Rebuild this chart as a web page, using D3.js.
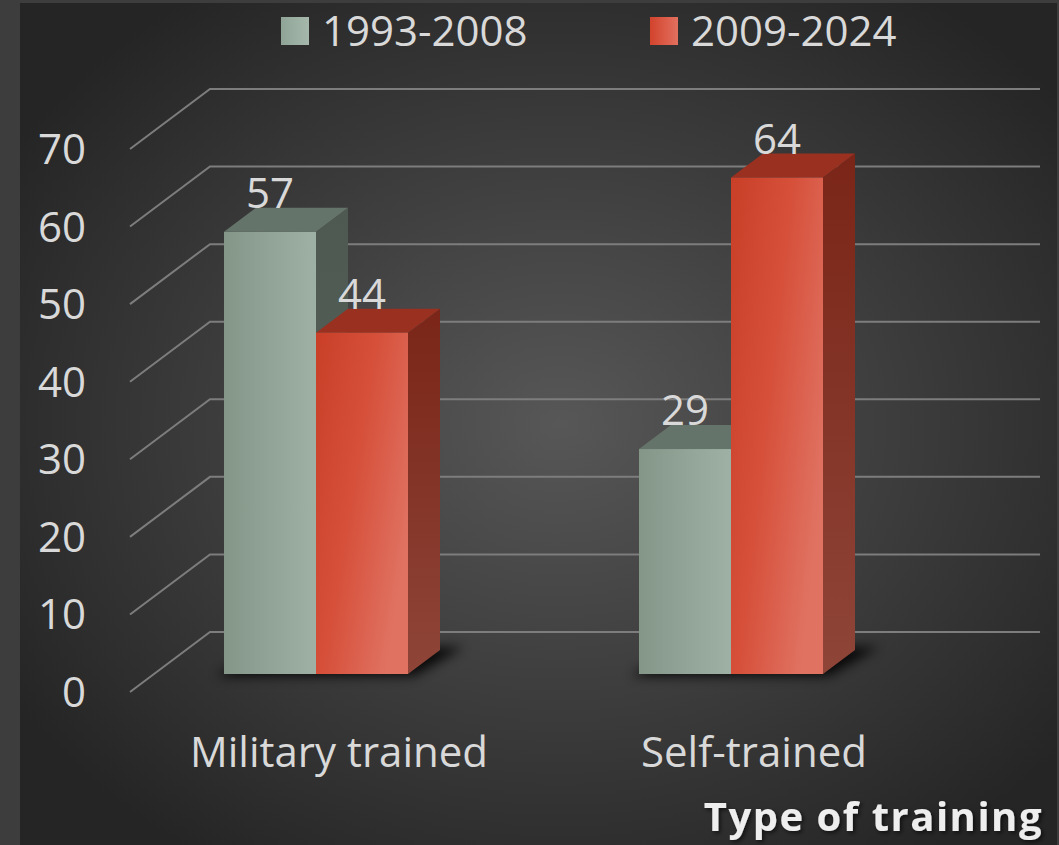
<!DOCTYPE html>
<html>
<head>
    <title>Type of training</title>
    <meta charset="utf-8">
</head>
<body style="margin:0;background:#3d3d3d;">
<style>
    text {
        font-family: "Open Sans", "Noto Sans", sans-serif;
        fill: #d9d9d9;
    }
</style>
<script src="https://d3js.org/d3.v7.min.js"></script>
<script>
    // chart data
    const categories = ['Military trained', 'Self-trained'];
    const seriesNames = ['1993-2008', '2009-2024'];
    const values1993 = [57, 29];
    const values2009 = [44, 64];
    const yTicks = [0, 10, 20, 30, 40, 50, 60, 70];
    const axisTitle = 'Type of training';

    const SIZES = {
        WIDTH: 1059,
        HEIGHT: 845,
        DEPTH_X: 80,      // wall depth offset
        DEPTH_Y: -60,
        BAR_FRONT: 0.3,   // bar placed between 0.3 and 0.7 of the depth
        BAR_BACK: 0.7,
        BAR_WIDTH: 92
    };

    const svg = d3.select('body').append('svg')
        .attr('width', SIZES.WIDTH)
        .attr('height', SIZES.HEIGHT);

    const defs = svg.append('defs');

    // background
    const bg = defs.append('radialGradient').attr('id', 'bg')
        .attr('cx', '52%').attr('cy', '50%').attr('r', '62%');
    bg.append('stop').attr('offset', '0%').attr('stop-color', '#575757');
    bg.append('stop').attr('offset', '100%').attr('stop-color', '#252525');

    function linear(id, stops, x2 = '100%', y2 = '0%') {
        const g = defs.append('linearGradient').attr('id', id)
            .attr('x1', '0%').attr('y1', '0%').attr('x2', x2).attr('y2', y2);
        stops.forEach(([o, c]) => g.append('stop').attr('offset', o).attr('stop-color', c));
    }
    linear('greyFront', [['0%', '#849688'], ['100%', '#9fb1a5']]);
    linear('redFront', [['0%', '#c93f28'], ['50%', '#d6503a'], ['100%', '#e07262']], '100%', '60%');
    linear('greySide', [['0%', '#4e5951'], ['100%', '#56635b']], '0%', '100%');
    linear('redSide', [['0%', '#7a2517'], ['100%', '#8e4538']], '0%', '100%');
    linear('greyLeg', [['0%', '#8fa497'], ['100%', '#a5b8ab']]);
    linear('redLeg', [['0%', '#d2432c'], ['100%', '#e2705f']]);

    defs.append('filter').attr('id', 'blur')
        .attr('x', '-30%').attr('y', '-60%').attr('width', '160%').attr('height', '220%')
        .append('feGaussianBlur').attr('stdDeviation', 6);

    const shadow = defs.append('filter').attr('id', 'txtShadow');
    shadow.append('feDropShadow').attr('dx', 2).attr('dy', 2)
        .attr('stdDeviation', 2).attr('flood-color', '#000').attr('flood-opacity', 0.6);

    svg.append('rect').attr('x', 20).attr('y', 3)
        .attr('width', 1037).attr('height', SIZES.HEIGHT - 3)
        .attr('fill', 'url(#bg)');

    // scales (front plane of the floor)
    const y = d3.scaleLinear().domain([0, 70]).range([692, 149]);
    const x = d3.scaleBand().domain(categories).range([84.5, 914.5]);
    const wallLeft = 130;
    const wallRight = 960;

    // project a point at depth t (0 = front, 1 = back wall)
    const P = (px, py, t) => [px + SIZES.DEPTH_X * t, py + SIZES.DEPTH_Y * t];
    const line = d3.line();

    // gridlines: side diagonal + back line
    const grid = svg.append('g');
    yTicks.forEach(v => {
        grid.append('path')
            .attr('d', line([P(wallLeft, y(v), 0), P(wallLeft, y(v), 1), P(wallRight, y(v), 1)]))
            .attr('fill', 'none')
            .attr('stroke', '#7d7d7d')
            .attr('stroke-width', 2);
    });

    // tick labels
    svg.append('g').selectAll('text')
        .data(yTicks)
        .join('text')
        .attr('x', 86)
        .attr('y', d => y(d) + 15)
        .attr('text-anchor', 'end')
        .style('font-size', '42px')
        .text(d => d);

    // bar shadows
    categories.forEach(c => {
        const cx = x(c) + x.bandwidth() / 2;
        const x0 = cx - SIZES.BAR_WIDTH - 8;
        const x1 = cx + SIZES.BAR_WIDTH + 6;
        const pts = [P(x0, y(0) + 2, SIZES.BAR_FRONT), P(x1, y(0) + 2, SIZES.BAR_FRONT),
            P(x1 + 14, y(0), SIZES.BAR_BACK + 0.05), P(x0 + 14, y(0), SIZES.BAR_BACK + 0.05)];
        svg.append('path')
            .attr('d', line(pts) + 'Z')
            .attr('fill', '#000')
            .attr('opacity', 0.85)
            .attr('filter', 'url(#blur)');
    });

    // bars
    const bars = [];
    categories.forEach((c, i) => {
        const cx = x(c) + x.bandwidth() / 2;
        bars.push({cat: c, value: values1993[i], x0: cx - SIZES.BAR_WIDTH, kind: 'grey'});
        bars.push({cat: c, value: values2009[i], x0: cx, kind: 'red'});
    });

    const topColor = {grey: '#65746a', red: '#993020'};
    const barG = svg.append('g');
    bars.forEach(b => {
        const xa = b.x0, xb = b.x0 + SIZES.BAR_WIDTH;
        const f = SIZES.BAR_FRONT, k = SIZES.BAR_BACK;
        const yt = y(b.value), yb = y(0);
        const g = barG.append('g');
        // side face
        g.append('path')
            .attr('d', line([P(xb, yt, f), P(xb, yt, k), P(xb, yb, k), P(xb, yb, f)]) + 'Z')
            .attr('fill', `url(#${b.kind}Side)`);
        // top face
        g.append('path')
            .attr('d', line([P(xa, yt, f), P(xb, yt, f), P(xb, yt, k), P(xa, yt, k)]) + 'Z')
            .attr('fill', topColor[b.kind]);
        // front face
        const [fx, fy] = P(xa, yt, f);
        g.append('rect')
            .attr('x', fx).attr('y', fy)
            .attr('width', SIZES.BAR_WIDTH)
            .attr('height', yb - yt)
            .attr('fill', `url(#${b.kind}Front)`);
        // value label
        const [, ly] = P(xa + SIZES.BAR_WIDTH / 2, yt, k);
        g.append('text')
            .attr('x', fx + SIZES.BAR_WIDTH / 2)
            .attr('y', ly)
            .attr('text-anchor', 'middle')
            .style('font-size', '42px')
            .text(b.value);
    });

    // category labels
    svg.append('g').selectAll('text')
        .data(categories)
        .join('text')
        .attr('x', d => x(d) + x.bandwidth() / 2 + 47)
        .attr('y', 767)
        .attr('text-anchor', 'middle')
        .style('font-size', '42px')
        .text(d => d);

    // axis title
    svg.append('text')
        .attr('x', 1043)
        .attr('y', 831)
        .attr('text-anchor', 'end')
        .attr('filter', 'url(#txtShadow)')
        .style('font-size', '40px')
        .style('font-weight', 700)
        .style('letter-spacing', '1.5px')
        .style('fill', '#eeeeee')
        .text(axisTitle);

    // legend
    const legendX = [281, 650];
    const legend = svg.append('g').selectAll('g')
        .data(seriesNames)
        .join('g')
        .attr('transform', (d, i) => `translate(${legendX[i]},17)`);
    legend.append('rect')
        .attr('width', 28).attr('height', 28)
        .attr('fill', (d, i) => i === 0 ? 'url(#greyLeg)' : 'url(#redLeg)');
    legend.append('text')
        .attr('x', 41)
        .attr('y', 29)
        .style('font-size', '42px')
        .text(d => d);
</script>
</body>
</html>
